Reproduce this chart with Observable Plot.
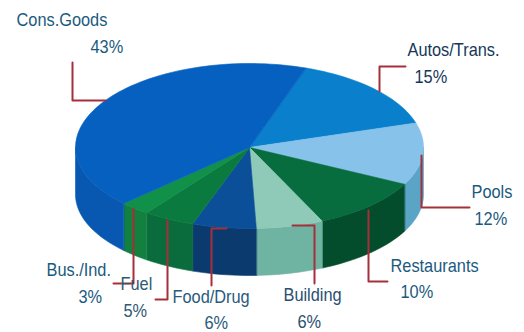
<!DOCTYPE html>
<html>
<head>
<meta charset="utf-8">
<style>html,body{margin:0;padding:0;background:#fff}svg{display:block}</style>
<script src="https://cdn.jsdelivr.net/npm/d3@7"></script>
<script src="https://cdn.jsdelivr.net/npm/@observablehq/plot@0.6"></script>
</head>
<body>
<script>
// Sector shares, clockwise from the Autos/Trans. slice
const categories = ["Autos/Trans.", "Pools", "Restaurants", "Building", "Food/Drug", "Fuel", "Bus./Ind.", "Cons.Goods"];
const shares = [15, 12, 10, 6, 6, 5, 3, 43];
const topColors = ["#0a80cc", "#86c2e9", "#076c3e", "#8fcab9", "#0a4f98", "#0a7a3e", "#109049", "#0660c0"];
const sideColors = ["#0a6cb0", "#5aa5c6", "#034c2c", "#6fb3a2", "#0b3a6e", "#0a6b3c", "#12803f", "#0857b0"];

// Labels: name, percentage, and their anchor points
const labelX = [407, 471, 390, 283, 172, 120, 46, 16];
const labelY = [49, 191, 265, 294, 296, 283, 269, 19];
const percentX = [414, 474, 400, 297, 204, 123, 78, 90];
const percentY = [76, 218, 291, 321, 322, 310, 296, 46];
const labelColors = ["#16375a", "#1b5a80", "#1b5a80", "#2a4f72", "#2a5a7c", "#2f5a74", "#1b5a80", "#1b5a80"];

// Elbow leaders from each label to its slice
const leaderX = [[405, 379, 379], [421, 421, 469], [368, 368, 387], [292, 314, 314], [226, 211, 211], [167, 167, 155], [133, 133, 113], [72, 72, 105]];
const leaderY = [[66, 66, 91], [155, 207, 207], [210, 281, 281], [225, 225, 283], [228, 228, 285], [220, 299, 299], [208, 283, 283], [62, 100, 100]];

// Disc geometry in chart units
const cx = 249, cy = 147, rx = 174, ryNear = 81, ryFar = 84, depth = 47, startAngle = -71, nearSwell = 4;

// Point on the disc rim; the near half is slightly swollen by the camera's perspective
const rim = (deg, drop = 0) => {
  const s = Math.sin(deg * Math.PI / 180);
  const a = (deg + (s > 0 ? nearSwell * s * s : 0)) * Math.PI / 180;
  return {x: cx + rx * Math.cos(a), y: cy + (s > 0 ? ryNear : ryFar) * Math.sin(a) + drop};
};
const arc = (a0, a1, drop = 0) => {
  const n = Math.max(2, Math.ceil(Math.abs(a1 - a0) / 2));
  return d3.range(n + 1).map(i => rim(a0 + (a1 - a0) * i / n, drop));
};

const topFaces = [];
const sideFaces = [];
let angle = startAngle;
categories.forEach((name, i) => {
  const a0 = angle, a1 = angle + shares[i] * 3.6;
  angle = a1;
  [{x: cx, y: cy}, ...arc(a0, a1)].forEach(p => topFaces.push({...p, name}));
  // Only the near half of the wall faces the viewer
  const v0 = Math.max(a0, 0), v1 = Math.min(a1, 180);
  if (v1 > v0) {
    [...arc(v0, v1), ...arc(v1, v0, depth)].forEach(p => sideFaces.push({...p, name}));
  }
});

const leaders = leaderX.flatMap((xs, i) => xs.map((x, j) => ({x, y: leaderY[i][j], name: categories[i]})));
const nameLabels = categories.map((name, i) => ({x: labelX[i], y: labelY[i], text: name, color: labelColors[i]}));
const percentLabels = categories.map((name, i) => ({x: percentX[i], y: percentY[i], text: `${shares[i]}%`, color: labelColors[i]}));

const face = (data, colors) => Plot.line(data, {
  x: "x", y: "y", z: "name",
  curve: "linear-closed",
  fill: d => colors[categories.indexOf(d.name)],
  stroke: d => colors[categories.indexOf(d.name)],
  strokeWidth: 0.6
});
const text = data => Plot.text(data, {
  x: "x", y: "y", text: "text", fill: "color",
  textAnchor: "start", fontSize: 19, fontFamily: "Liberation Sans"
});

const chart = Plot.plot({
  width: 524,
  height: 332,
  margin: 0,
  x: {domain: [0, 524], axis: null},
  y: {domain: [332, 0], axis: null},
  color: {type: "identity"},
  marks: [
    face(sideFaces, sideColors),
    face(topFaces, topColors),
    Plot.line(leaders, {x: "x", y: "y", z: "name", stroke: "#a5303a", strokeWidth: 2}),
    text(nameLabels),
    text(percentLabels)
  ]
});
document.body.append(chart);

// Condense the label lettering to the narrow face used by the chart
const condense = 0.86;
d3.select(chart).selectAll("text").each(function () {
  this.setAttribute("textLength", this.getComputedTextLength() * condense);
  this.setAttribute("lengthAdjust", "spacingAndGlyphs");
});
</script>
</body>
</html>
